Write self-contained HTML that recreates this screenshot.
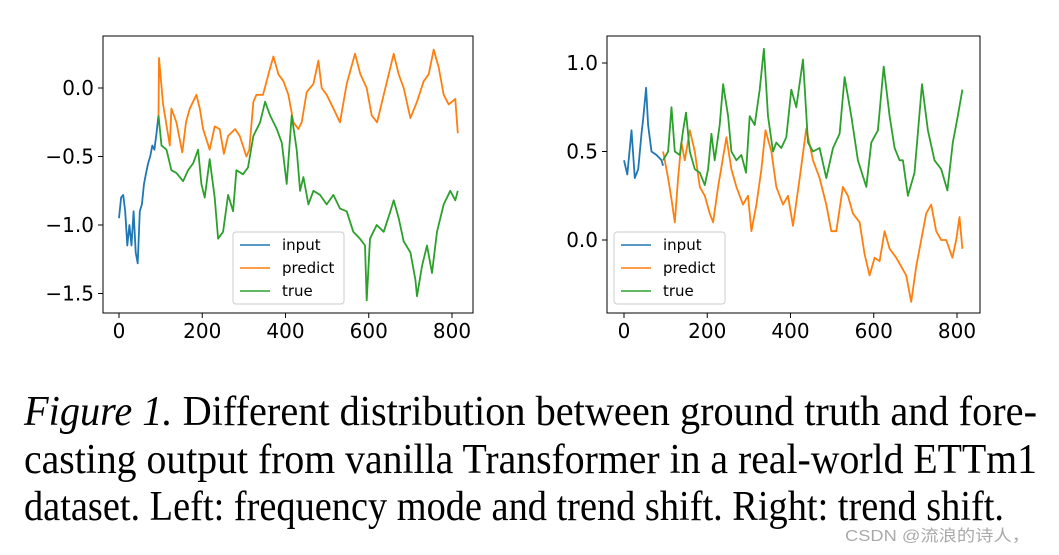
<!DOCTYPE html>
<html><head><meta charset="utf-8"><style>
html,body{margin:0;padding:0;background:#fff;}
svg{display:block;}
.tk{font-family:"DejaVu Sans","Liberation Sans",sans-serif;font-size:20px;fill:#000;}
.lg{font-family:"DejaVu Sans","Liberation Sans",sans-serif;font-size:15px;fill:#000;}
.cap{font-family:"Liberation Serif",serif;font-size:42px;fill:#000;}
</style></head><body>
<svg id="fig" width="1059" height="555" viewBox="0 0 1059 555" xmlns="http://www.w3.org/2000/svg">
<g id="left"></g>
<g id="right"></g>
<text class="cap" x="24" y="425" textLength="1013" lengthAdjust="spacingAndGlyphs"><tspan font-style="italic">Figure 1.</tspan> Different distribution between ground truth and fore-</text>
<text class="cap" x="24" y="473" textLength="1013" lengthAdjust="spacingAndGlyphs">casting output from vanilla Transformer in a real-world ETTm1</text>
<text class="cap" x="24" y="520" textLength="980" lengthAdjust="spacingAndGlyphs">dataset. Left: frequency mode and trend shift. Right: trend shift.</text>
<text x="845" y="541" font-family="'Liberation Sans','Noto Sans CJK SC',sans-serif" font-size="16" fill="#aaa" textLength="185" lengthAdjust="spacingAndGlyphs">CSDN @流浪的诗人，</text>
</svg>
<script>
// Left chart data
const L_inX=[0,5,10,15,20,25,30,35,40,45,50,55,60,65,70,75,80,85,90,95];
const L_inY=[-0.95,-0.8,-0.78,-0.9,-1.15,-1.0,-1.15,-0.9,-1.2,-1.28,-0.9,-0.85,-0.7,-0.62,-0.55,-0.5,-0.42,-0.45,-0.33,-0.2];
const L_prX=[95,96,106,122,126,138,152,161,170,186,194,202,218,230,242,252,262,279,290,306,313,323,330,346,359,371,383,395,407,419,431,439,451,467,479,487,499,515,531,547,567,580,595,607,620,636,648,660,672,684,700,716,732,744,756,768,780,792,808,814];
const L_prY=[-0.2,0.22,-0.12,-0.42,-0.15,-0.25,-0.47,-0.25,-0.15,-0.05,-0.15,-0.3,-0.45,-0.28,-0.3,-0.48,-0.35,-0.3,-0.35,-0.5,-0.45,-0.1,-0.05,-0.05,0.1,0.23,0.1,0.05,-0.05,-0.25,-0.3,-0.25,-0.03,0.03,0.2,0.0,-0.05,-0.15,-0.25,0.03,0.25,0.1,0.0,-0.2,-0.25,-0.05,0.1,0.25,0.1,0.0,-0.22,-0.1,0.05,0.1,0.28,0.15,-0.05,-0.12,-0.08,-0.33];
const L_trX=[95,102,114,126,138,154,166,178,190,198,206,218,230,238,250,262,274,282,298,310,323,339,351,363,379,391,403,415,427,435,443,455,467,483,499,515,531,547,563,579,591,595,603,619,636,652,660,672,684,700,712,716,728,740,752,764,780,796,808,814];
const L_trY=[-0.2,-0.42,-0.45,-0.6,-0.62,-0.68,-0.6,-0.55,-0.45,-0.7,-0.8,-0.52,-0.8,-1.1,-1.05,-0.78,-0.9,-0.6,-0.63,-0.58,-0.35,-0.25,-0.1,-0.2,-0.3,-0.4,-0.7,-0.2,-0.45,-0.75,-0.65,-0.85,-0.75,-0.78,-0.85,-0.78,-0.88,-0.9,-1.05,-1.1,-1.15,-1.55,-1.1,-1.0,-1.05,-0.9,-0.82,-0.95,-1.12,-1.2,-1.4,-1.52,-1.3,-1.15,-1.35,-1.05,-0.85,-0.75,-0.82,-0.75];
const L_yTicks=[0.0,-0.5,-1.0,-1.5];
const L_xTicks=[0,200,400,600,800];
// Right chart data
const R_inX=[0,8,18,26,34,42,46,53,58,66,78,90,94];
const R_inY=[0.45,0.37,0.62,0.35,0.4,0.6,0.68,0.86,0.65,0.5,0.48,0.45,0.42];
const R_prX=[94,106,114,122,130,138,146,158,170,182,194,206,214,226,246,258,270,286,298,306,318,330,340,354,366,382,394,406,422,438,454,470,486,498,510,526,538,550,566,578,590,602,614,626,638,654,666,678,690,702,714,726,738,750,762,774,789,798,806,813];
const R_prY=[0.5,0.35,0.23,0.1,0.35,0.55,0.45,0.62,0.5,0.3,0.25,0.15,0.1,0.3,0.58,0.4,0.3,0.2,0.25,0.05,0.2,0.4,0.62,0.5,0.3,0.2,0.25,0.08,0.35,0.63,0.45,0.35,0.2,0.05,0.05,0.3,0.25,0.15,0.1,-0.08,-0.2,-0.1,-0.12,0.05,-0.05,-0.1,-0.15,-0.2,-0.35,-0.15,0.0,0.15,0.2,0.05,0.0,0.0,-0.1,0.0,0.13,-0.05];
const R_trX=[94,106,114,122,134,142,149,158,170,182,194,202,210,218,230,238,250,258,270,282,293,302,314,326,336,346,358,366,378,390,402,414,430,442,454,470,486,502,518,530,546,562,582,594,610,624,638,650,662,670,682,698,716,730,746,762,777,790,802,813];
const R_trY=[0.45,0.5,0.75,0.5,0.48,0.62,0.72,0.5,0.4,0.38,0.31,0.4,0.6,0.45,0.65,0.88,0.7,0.5,0.45,0.48,0.38,0.7,0.65,0.85,1.08,0.7,0.5,0.55,0.52,0.58,0.85,0.75,1.02,0.55,0.5,0.52,0.35,0.52,0.6,0.92,0.7,0.45,0.3,0.55,0.62,0.98,0.7,0.52,0.45,0.45,0.25,0.38,0.88,0.62,0.45,0.4,0.28,0.55,0.7,0.85];
const R_yTicks=[1.0,0.5,0.0];
const R_xTicks=[0,200,400,600,800];

const NS='http://www.w3.org/2000/svg';
function mk(tag,attrs,parent){const e=document.createElementNS(NS,tag);for(const k in attrs)e.setAttribute(k,attrs[k]);parent.appendChild(e);return e;}
function fmt(v){const s=v.toFixed(1);return v<0?'\u2212'+s.slice(1):s;}

function drawChart(g,box,xmap,ymap,yTicks,xTicks,series,legendX,prefix){
  const sx=v=>xmap[0]+(v-xmap[1])*xmap[2];
  const sy=v=>ymap[0]+(v-ymap[1])*ymap[2];
  const frame=mk('rect',{x:box[0],y:box[1],width:box[2]-box[0],height:box[3]-box[1],fill:'#fff',stroke:'#000','stroke-width':1},g);
  
  
  yTicks.forEach(t=>{
    const y=sy(t);
    const ln=mk('line',{x1:box[0]-5,x2:box[0],y1:y,y2:y,stroke:'#000'},g);
    
    
    const tx=mk('text',{x:box[0]-9,y:y+7,'text-anchor':'end',class:'tk'},g);
    tx.textContent=fmt(t);
    
    
  });
  xTicks.forEach(t=>{
    const x=sx(t);
    const ln=mk('line',{x1:x,x2:x,y1:box[3],y2:box[3]+5,stroke:'#000'},g);
    
    
    const tx=mk('text',{x:x,y:box[3]+25,'text-anchor':'middle',class:'tk'},g);
    tx.textContent=String(t);
    
    
  });
  series.forEach(s=>{
    const d=s.x.map((v,i)=>(i?'L':'M')+sx(v).toFixed(1)+','+sy(s.y[i]).toFixed(1)).join('');
    const p=mk('path',{d:d,fill:'none',stroke:s.c,'stroke-width':1.8,'stroke-linejoin':'round'},g);
    
    
  });
  const lg=mk('g',{},g);
  
  
  mk('rect',{x:legendX,y:232,width:111,height:72,rx:3,fill:'#fff',stroke:'#ccc','stroke-width':1},lg);
  series.forEach((s,i)=>{
    const y=245+i*23;
    mk('line',{x1:legendX+7,x2:legendX+37,y1:y,y2:y,stroke:s.c,'stroke-width':1.6},lg);
    const t=mk('text',{x:legendX+49,y:y+5,class:'lg'},lg);
    t.textContent=s.n;
    
    
  });
}
drawChart(document.getElementById('left'),[103,36,473,313],[119,0,333/800],[88,0,-137],L_yTicks,L_xTicks,
 [{n:'input',c:'#1f77b4',x:L_inX,y:L_inY},{n:'predict',c:'#ff7f0e',x:L_prX,y:L_prY},{n:'true',c:'#2ca02c',x:L_trX,y:L_trY}],233,'left');
drawChart(document.getElementById('right'),[607,36,980,313],[624,0,333/800],[240,0,-177],R_yTicks,R_xTicks,
 [{n:'input',c:'#1f77b4',x:R_inX,y:R_inY},{n:'predict',c:'#ff7f0e',x:R_prX,y:R_prY},{n:'true',c:'#2ca02c',x:R_trX,y:R_trY}],614,'right');
</script>
</body></html>
